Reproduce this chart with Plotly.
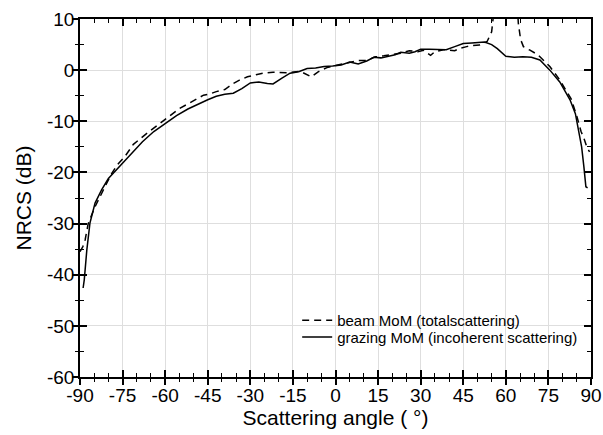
import plotly.graph_objects as go

# ---- data ----
grazing_angle = [-88.9, -88.5, -87.6, -86.5, -84.7, -82.4, -80, -78, -75.5, -72, -68, -64,
                 -60, -56, -52, -48, -45, -42, -39, -36, -33, -30, -27, -24, -22, -19,
                 -16, -13, -10, -7, -4, -1, 2, 5, 8, 11, 13.5, 16, 18, 21, 23, 26, 28,
                 30, 33, 36, 39, 42, 45, 48, 50, 52.5, 55, 57, 60, 63, 66, 69, 72, 75.5,
                 79, 82.6, 84.5, 85.6, 86.7, 87.5, 88.2, 88.8]
grazing_nrcs = [-42.6, -41, -35.2, -29.9, -26, -23.4, -21.2, -20, -18.3, -16.2, -14, -12,
                -10.5, -8.9, -7.6, -6.5, -5.8, -5.1, -4.7, -4.5, -3.6, -2.5, -2.3, -2.6,
                -2.7, -1.6, -0.6, -0.3, 0.3, 0.4, 0.7, 0.8, 1.0, 1.6, 1.2, 1.8, 2.5, 2.4,
                2.6, 3.0, 3.5, 3.3, 3.6, 4.1, 4.1, 4.1, 4.0, 4.6, 5.2, 5.3, 5.4, 5.5,
                5.0, 4.2, 2.7, 2.5, 2.6, 2.5, 2.0, 0.0, -2.3, -5.8, -8.5, -11.7, -15,
                -18.9, -22.8, -23]

beam_angle = [-90, -89, -88.2, -87.1, -84.7, -83, -80.5, -78.8, -77, -74.2, -71.2, -67,
              -64, -61.8, -58, -55, -52, -49, -46.5, -44, -42, -39, -36, -34, -31, -28,
              -25.5, -22, -19, -16.5, -12.5, -10, -8.5, -6, -3, 0, 3, 5, 8, 11, 14, 17,
              20, 23, 26, 29, 31, 33.5, 35, 38, 42, 44, 46.2, 48, 50.7, 53.4, 55, 55.6,
              56, 60, 63.8, 64.4, 65.2, 66.2, 68.5, 71.3, 75.5, 79, 81, 83, 85, 86.5,
              87.5, 88.5, 89.5]
beam_nrcs = [-35.5, -34.5, -33.2, -30, -26.7, -24.7, -22, -20.2, -18.6, -16.9, -14.5,
             -12.6, -11.3, -10.4, -8.8, -7.5, -6.6, -5.6, -4.9, -4.6, -4.2, -3.8, -2.6,
             -2.0, -1.3, -0.9, -0.6, -0.4, -0.4, -0.5, -0.2, -0.8, -1.3, -0.3, 0.5, 0.9,
             1.3, 1.5, 1.9, 1.9, 2.6, 2.8, 3.0, 3.3, 3.8, 3.6, 3.9, 2.9, 3.6, 4.0, 3.8,
             4.3, 4.6, 4.8, 4.9, 5.6, 7.5, 10.5, 15, None, 15, 9.2, 6.0, 4.6, 3.9, 3.0,
             0.7, -1.9, -3.8, -5.6, -9.0, -12.0, -13.3, -15.0, -16.0]

x_ticks = list(range(-90, 91, 15))
y_ticks = list(range(-60, 11, 10))

FONT = "Liberation Sans, Arial, sans-serif"

fig = go.Figure()
fig.add_trace(go.Scatter(x=beam_angle, y=beam_nrcs, mode="lines",
                         name="beam MoM (totalscattering)", connectgaps=False,
                         legend="legend",
                         line=dict(color="black", width=1.5, dash="7px,5px")))
fig.add_trace(go.Scatter(x=grazing_angle, y=grazing_nrcs, mode="lines",
                         name="grazing MoM (incoherent scattering)",
                         legend="legend2",
                         line=dict(color="black", width=1.5)))
# empty trace to carry the outward-tick overlay axes
fig.add_trace(go.Scatter(x=[None], y=[None], xaxis="x2", yaxis="y2",
                         showlegend=False, hoverinfo="skip"))

common_axis = dict(showline=True, linecolor="black", linewidth=1.5,
                   ticks="inside", tickcolor="black", tickwidth=1.5, ticklen=7,
                   mirror="ticks", showgrid=True, gridcolor="#dedede", gridwidth=1,
                   zeroline=False, automargin=False,
                   tickfont=dict(family=FONT, size=19, color="black"))

legend_style = dict(xanchor="left", yanchor="top", bgcolor="rgba(0,0,0,0)",
                    borderwidth=0, itemwidth=30,
                    font=dict(family=FONT, size=15, color="black"))

fig.update_layout(
    width=603, height=435, autosize=False,
    paper_bgcolor="white", plot_bgcolor="white",
    margin=dict(l=80, r=12, t=19, b=58),
    font=dict(family=FONT, color="black"),
    xaxis=dict(range=[-90, 90], tickvals=x_ticks,
               ticktext=[str(v) for v in x_ticks],
               minor=dict(dtick=5, tick0=0, ticks="inside", ticklen=4,
                          tickcolor="black", tickwidth=1.2, showgrid=False),
               title=dict(text="Scattering angle ( °)",
                          font=dict(family=FONT, size=21), standoff=3),
               **common_axis),
    yaxis=dict(range=[-60, 10], tickvals=y_ticks,
               ticktext=[str(v) for v in y_ticks],
               minor=dict(dtick=5, tick0=0, ticks="inside", ticklen=4,
                          tickcolor="black", tickwidth=1.2, showgrid=False),
               title=dict(text="NRCS (dB)",
                          font=dict(family=FONT, size=21), standoff=10),
               **common_axis),
    xaxis2=dict(overlaying="x", matches="x", side="bottom", anchor="y2",
                range=[-90, 90], tickvals=x_ticks, showticklabels=False,
                ticks="outside", ticklen=7, tickwidth=1.5, tickcolor="black",
                minor=dict(dtick=5, tick0=0, ticks="outside", ticklen=4,
                           tickcolor="black", tickwidth=1.2, showgrid=False),
                showgrid=False, showline=False, zeroline=False, automargin=False),
    yaxis2=dict(overlaying="y", matches="y", side="left", anchor="x2",
                range=[-60, 10], tickvals=y_ticks, showticklabels=False,
                ticks="outside", ticklen=7, tickwidth=1.5, tickcolor="black",
                minor=dict(dtick=5, tick0=0, ticks="outside", ticklen=4,
                           tickcolor="black", tickwidth=1.2, showgrid=False),
                showgrid=False, showline=False, zeroline=False, automargin=False),
    legend=dict(x=0.425, y=0.204, **legend_style),
    legend2=dict(x=0.425, y=0.157, **legend_style),
    showlegend=True,
)

fig.write_html("out.html",
               config={"displayModeBar": False},
               post_script="document.body.style.margin='0';"
                           "document.body.style.padding='0';")
